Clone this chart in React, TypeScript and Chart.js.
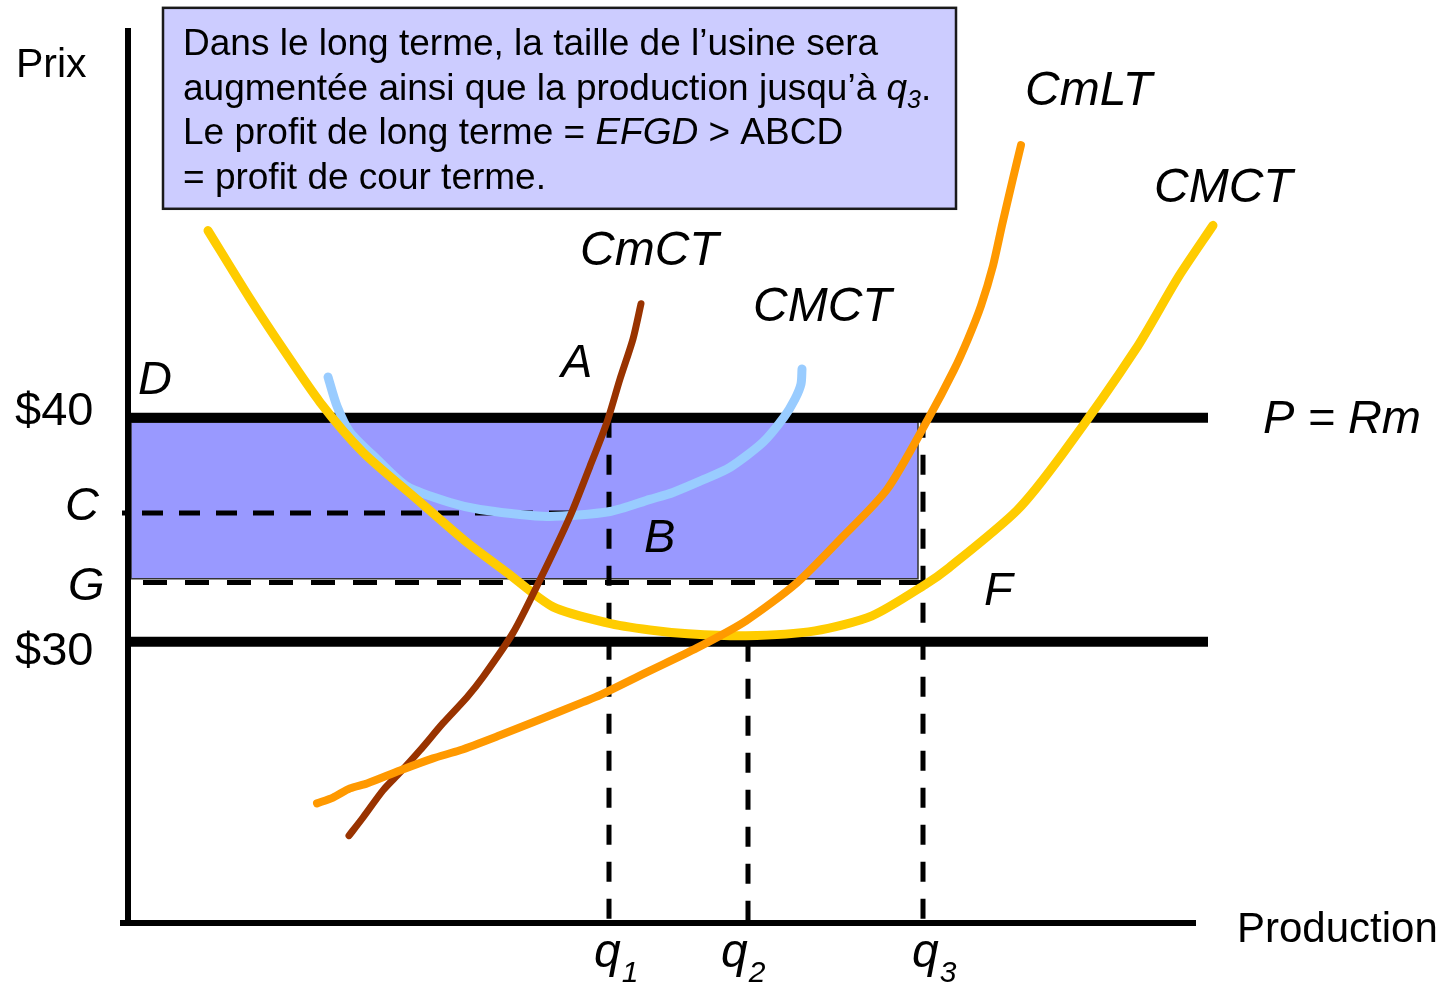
import React, { useEffect, useRef } from "react";
import { Chart, registerables } from "chart.js";

Chart.register(...registerables);

const FONT = '"Liberation Sans", Arial, Helvetica, sans-serif';

// ---- scale ranges (production on x, price on y) ----
const X_MIN = 0;
const X_MAX = 112.2;
const Y_MIN = 17.45;
const Y_MAX = 57.4;

// ---- key levels ----
const priceHigh = 40; // $40 : P = Rm
const priceLow = 30; // $30
const costC = 35.75; // C : short-run average cost at q1
const costG = 32.65; // G : long-run average cost at q3
const quantities = [48.1, 62.0, 79.5]; // q1, q2, q3
const priceLineEndX = 108;
const axisEndX = 106.8;

// ---- profit rectangle EFGD ----
const profitRectX = [0.3, 79.0, 79.0, 0.3, 0.3];
const profitRectY = [39.81, 39.81, 32.82, 32.82, 39.81];

// ---- long-run average cost (yellow, "CMCT" on the right) ----
const lracX = [8.0, 12.2, 15.5, 19.2, 23.5, 28.9, 33.9, 37.9, 42.5, 47.9, 52.2, 56.0, 61.8, 68.7, 74.4, 79.7, 82.1, 88.9, 93.5, 100.8, 105.0, 108.5];
const lracY = [48.36, 45.32, 43.08, 40.7, 38.46, 36.36, 34.43, 33.09, 31.56, 30.85, 30.53, 30.36, 30.27, 30.49, 31.16, 32.55, 33.31, 35.87, 38.42, 43.08, 46.26, 48.59];

// ---- short-run average cost (light blue, "CMCT") ----
const sracX = [20.0, 20.9, 22.2, 24.9, 27.9, 32.2, 35.2, 41.9, 48.2, 52.2, 54.5, 57.6, 60.2, 63.5, 65.6, 66.7, 67.3, 67.4];
const sracY = [41.82, 40.52, 39.36, 38.15, 36.94, 36.22, 35.91, 35.6, 35.82, 36.36, 36.67, 37.25, 37.79, 38.91, 40.03, 40.84, 41.51, 42.18];

// ---- short-run marginal cost (brown, "CmCT") ----
const srmcX = [22.1, 23.5, 25.5, 27.2, 29.2, 31.5, 33.9, 35.5, 38.5, 41.2, 44.2, 46.2, 47.9, 49.2, 50.5, 51.3];
const srmcY = [21.35, 22.16, 23.37, 24.17, 25.16, 26.37, 27.53, 28.43, 30.4, 32.77, 35.6, 37.84, 39.81, 41.73, 43.52, 45.09];

// ---- long-run marginal cost (orange, "CmLT") ----
const lrmcX = [18.9, 20.5, 22.2, 23.9, 27.2, 30.5, 33.2, 37.2, 40.5, 45.5, 47.2, 51.9, 56.9, 61.8, 66.9, 71.2, 75.9, 80.0, 82.6, 84.0, 85.3, 86.5, 87.4, 88.5, 89.3];
const lrmcY = [22.79, 23.05, 23.46, 23.68, 24.26, 24.8, 25.16, 25.83, 26.41, 27.31, 27.62, 28.65, 29.73, 30.94, 32.64, 34.57, 36.8, 39.94, 42.14, 43.52, 45.0, 46.79, 48.59, 50.69, 52.17];

// ---- text labels (left / baseline, in data units) ----
type Label = { text: string; x: number; y: number; size: number; italic?: boolean; sub?: string; subSize?: number };
const labels: Label[] = [
  { text: "Prix", x: -11.2, y: 55.22, size: 41 },
  { text: "$40", x: -11.3, y: 39.68, size: 47 },
  { text: "$30", x: -11.3, y: 28.97, size: 47 },
  { text: "C", x: -6.3, y: 35.44, size: 47, italic: true },
  { text: "G", x: -6.0, y: 31.87, size: 47, italic: true },
  { text: "D", x: 1.0, y: 41.07, size: 47, italic: true },
  { text: "A", x: 43.3, y: 41.83, size: 47, italic: true },
  { text: "B", x: 51.6, y: 34.01, size: 47, italic: true },
  { text: "F", x: 85.6, y: 31.65, size: 47, italic: true },
  { text: "P = Rm", x: 113.5, y: 39.33, size: 47, italic: true },
  { text: "CmCT", x: 45.2, y: 46.83, size: 48, italic: true },
  { text: "CMCT", x: 62.5, y: 44.33, size: 48, italic: true },
  { text: "CmLT", x: 89.7, y: 53.97, size: 48, italic: true },
  { text: "CMCT", x: 102.6, y: 49.64, size: 48, italic: true },
  { text: "Production", x: 110.9, y: 16.6, size: 42 },
  { text: "q", x: 46.6, y: 15.49, size: 48, italic: true, sub: "1", subSize: 30 },
  { text: "q", x: 59.3, y: 15.49, size: 48, italic: true, sub: "2", subSize: 30 },
  { text: "q", x: 78.4, y: 15.49, size: 48, italic: true, sub: "3", subSize: 30 },
];

// ---- explanation box ----
const boxX = [3.5, 82.8];
const boxY = [58.3, 49.33];
type Seg = { t: string; i?: boolean; sub?: boolean };
const boxLines: Seg[][] = [
  [{ t: "Dans le long terme, la taille de l\u2019usine sera" }],
  [{ t: "augment\u00e9e ainsi que la production jusqu\u2019\u00e0 " }, { t: "q", i: true }, { t: "3", i: true, sub: true }, { t: "." }],
  [{ t: "Le profit de long terme = " }, { t: "EFGD", i: true }, { t: " > ABCD" }],
  [{ t: "= profit de cour terme." }],
];

const pts = (xs: number[], ys: number[]) => xs.map((x, i) => ({ x, y: ys[i] }));

const annotationPlugin = {
  id: "annotations",
  afterDatasetsDraw(chart: any) {
    const { ctx } = chart;
    const xs = chart.scales.x;
    const ys = chart.scales.y;
    const px = (v: number) => xs.getPixelForValue(v);
    const py = (v: number) => ys.getPixelForValue(v);

    ctx.save();
    // axes
    ctx.strokeStyle = "#000";
    ctx.lineWidth = 6;
    ctx.lineCap = "butt";
    ctx.beginPath();
    ctx.moveTo(px(0), py(Y_MAX));
    ctx.lineTo(px(0), py(Y_MIN) + 3);
    ctx.moveTo(px(-0.8), py(Y_MIN));
    ctx.lineTo(px(axisEndX), py(Y_MIN));
    ctx.stroke();

    // explanation box
    const bl = px(boxX[0]);
    const br = px(boxX[1]);
    const bt = py(boxY[0]);
    const bb = py(boxY[1]);
    ctx.fillStyle = "#ccccff";
    ctx.fillRect(bl, bt, br - bl, bb - bt);
    ctx.strokeStyle = "#1a1a1a";
    ctx.lineWidth = 2.5;
    ctx.strokeRect(bl, bt, br - bl, bb - bt);

    ctx.fillStyle = "#000";
    ctx.textBaseline = "alphabetic";
    ctx.textAlign = "left";
    const boxSize = 37;
    boxLines.forEach((line, li) => {
      let cx = bl + 20;
      const base = bt + 47 + li * 44.7;
      line.forEach((s) => {
        const size = s.sub ? 25 : boxSize;
        ctx.font = `${s.i ? "italic " : ""}${size}px ${FONT}`;
        ctx.fillText(s.t, cx, base + (s.sub ? 8 : 0));
        cx += ctx.measureText(s.t).width;
      });
    });

    // labels
    labels.forEach((l) => {
      ctx.font = `${l.italic ? "italic " : ""}${l.size}px ${FONT}`;
      const lx = px(l.x);
      const ly = py(l.y);
      ctx.fillText(l.text, lx, ly);
      if (l.sub) {
        const w = ctx.measureText(l.text).width;
        ctx.font = `italic ${l.subSize}px ${FONT}`;
        ctx.fillText(l.sub, lx + w + 1, ly + 15);
      }
    });
    ctx.restore();
  },
};

export default function App() {
  const canvasRef = useRef<HTMLCanvasElement | null>(null);

  useEffect(() => {
    if (!canvasRef.current) return;
    const curve = (data: any[], color: string, width: number, order: number) => ({
      data,
      borderColor: color,
      borderWidth: width,
      pointRadius: 0,
      tension: 0.25,
      fill: false,
      borderCapStyle: "round",
      borderJoinStyle: "round",
      clip: false,
      order,
    });
    const dashed = (data: any[], dash: number[], offset: number) => ({
      data,
      borderColor: "#000",
      borderWidth: 5,
      borderDash: dash,
      borderDashOffset: offset,
      pointRadius: 0,
      tension: 0,
      fill: false,
      borderCapStyle: "butt",
      clip: false,
      order: 9,
    });
    const [q1, q2, q3] = quantities;

    const chart = new Chart(canvasRef.current, {
      type: "line",
      data: {
        datasets: [
          {
            data: pts(profitRectX, profitRectY),
            borderColor: "#333333",
            borderWidth: 1.5,
            backgroundColor: "#9999ff",
            fill: "shape",
            pointRadius: 0,
            tension: 0,
            clip: false,
            order: 10,
          } as any,
          dashed(pts([-0.6, q1], [costC, costC]), [21, 16], 17),
          dashed(pts([0.3, q3], [costG, costG]), [24, 18], 30),
          dashed(pts([q1, q1], [priceHigh, Y_MIN]), [20, 17], 0),
          dashed(pts([q2, q2], [priceLow, Y_MIN]), [20, 17], 0),
          dashed(pts([q3, q3], [priceHigh, Y_MIN]), [20, 17], 0),
          {
            data: pts([0, priceLineEndX], [priceHigh, priceHigh]),
            borderColor: "#000",
            borderWidth: 10,
            pointRadius: 0,
            fill: false,
            clip: false,
            order: 8,
          },
          {
            data: pts([0, priceLineEndX], [priceLow, priceLow]),
            borderColor: "#000",
            borderWidth: 10,
            pointRadius: 0,
            fill: false,
            clip: false,
            order: 8,
          },
          curve(pts(sracX, sracY), "#99ccff", 9, 4),
          curve(pts(lracX, lracY), "#ffcc00", 9, 3),
          curve(pts(srmcX, srmcY), "#993300", 7, 2),
          curve(pts(lrmcX, lrmcY), "#ff9900", 8, 1),
        ] as any,
      },
      options: {
        responsive: false,
        animation: false,
        devicePixelRatio: 1,
        layout: { padding: { left: 128, right: 200, top: 28, bottom: 61 } },
        scales: {
          x: { type: "linear", min: X_MIN, max: X_MAX, display: false },
          y: { type: "linear", min: Y_MIN, max: Y_MAX, display: false },
        },
        plugins: {
          legend: { display: false },
          tooltip: { enabled: false },
        },
        events: [],
      } as any,
      plugins: [annotationPlugin],
    });
    return () => chart.destroy();
  }, []);

  return (
    <div style={{ position: "absolute", left: 0, top: 0, width: 1450, height: 984, background: "#fff" }}>
      <canvas ref={canvasRef} width={1450} height={984} style={{ display: "block" }} />
    </div>
  );
}
